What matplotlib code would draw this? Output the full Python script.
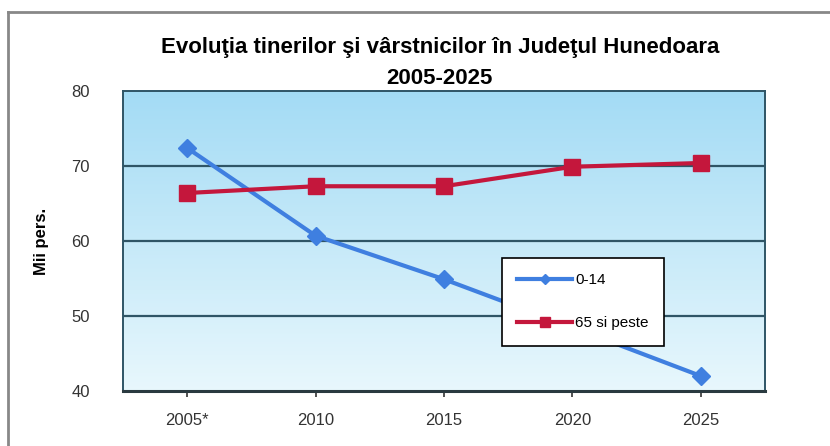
import matplotlib
matplotlib.use('Agg')
import matplotlib.pyplot as plt
import numpy as np
from matplotlib.lines import Line2D

ani=['2005*','2010','2015','2020','2025']###categorii
tineri=[72.4,60.7,54.9,48.5,42.0]###0-14
varstnici=[66.4,67.3,67.3,69.9,70.4]###65 si peste
yticks=[40,50,60,70,80]

plt.rcParams['font.family']=['Liberation Sans','DejaVu Sans']
fig=plt.figure(figsize=(8.3,4.46),dpi=100)
fig.patch.set_facecolor('white')
ax=fig.add_axes([123/830,1-391/446,642/830,300/446])

# fundal gradient
grad=np.linspace(0,1,256).reshape(-1,1)
top=np.array([0.64,0.86,0.96])
bot=np.array([0.91,0.97,0.99])
img=top*(1-grad)[:,:,None]+bot*grad[:,:,None]
ax.imshow(img,extent=[-0.5,4.5,40,80],aspect='auto',zorder=0,origin='upper')

x=np.arange(len(ani))
for v in [50,60,70]:
    ax.axhline(v,color='#2f5566',linewidth=1.6,zorder=1)
ax.plot(x,tineri,color='#3f7fe0',linewidth=3,marker='D',markersize=9,label='0-14',zorder=3)
ax.plot(x,varstnici,color='#c4173c',linewidth=3,marker='s',markersize=11,label='65 si peste',zorder=3)

ax.set_xlim(-0.5,4.5)
ax.set_ylim(40,80)
ax.set_xticks(x)
ax.set_xticklabels(ani,fontsize=12,color='#333333')
ax.set_yticks(yticks)
ax.set_yticklabels([str(v) for v in yticks],fontsize=12,color='#333333')
ax.tick_params(axis='x',length=4,width=1.2,color='#333333',pad=12)
ax.tick_params(axis='y',length=0,pad=24)
for s in ax.spines.values():
    s.set_color('#2f5566')
    s.set_linewidth(1.4)
ax.spines['bottom'].set_linewidth(2.2)
ax.spines['bottom'].set_color('#2a3a40')
ax.set_ylabel('Mii pers.',fontsize=12,fontweight='bold',labelpad=16)

leg=ax.legend(loc='upper left',bbox_to_anchor=((502-123)/642,(391-258)/300),fontsize=11,
              frameon=True,fancybox=False,edgecolor='black',framealpha=1,borderaxespad=0,
              handlelength=3.6,labelspacing=1.9,borderpad=1.0,handletextpad=0.2,markerscale=0.6)
leg.get_frame().set_linewidth(1.2)
leg.set_zorder(5)

fig.text(0.53,1-48/446,'Evoluţia tinerilor şi vârstnicilor în Judeţul Hunedoara',
         ha='center',va='center',fontsize=16,fontweight='bold')
fig.text(0.53,1-79/446,'2005-2025',ha='center',va='center',fontsize=16,fontweight='bold')

# chenar
fig.add_artist(Line2D([8/830,8/830],[0,1-12/446],color='#888888',linewidth=2,transform=fig.transFigure))
fig.add_artist(Line2D([8/830,1],[1-12/446,1-12/446],color='#888888',linewidth=2,transform=fig.transFigure))

fig.savefig('out.png',dpi=100)
